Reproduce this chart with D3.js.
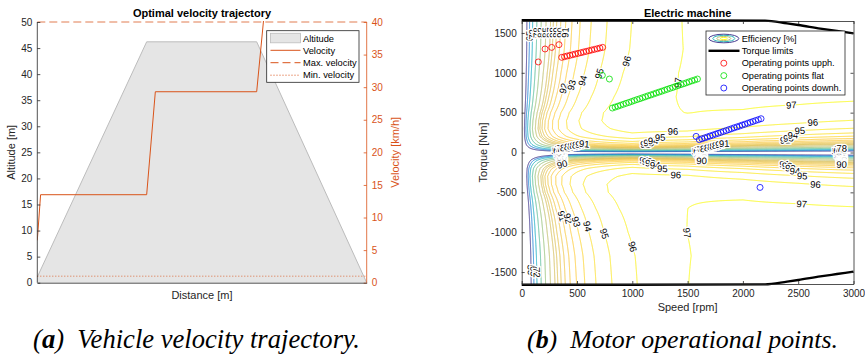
<!DOCTYPE html>
<html><head><meta charset="utf-8">
<script src="https://cdn.jsdelivr.net/npm/d3@7"></script>
<style>
body{margin:0;background:#fff}
svg{display:block;font-family:"Liberation Sans",Arial,Helvetica,sans-serif}
</style></head><body>
<svg id="fig" width="865" height="359"></svg>
<script>
// ---------------- (a) velocity trajectory ----------------
const altitudeDistance = [0, 996, 1998, 3000];
const altitudeValue    = [1.1, 46.2, 46.2, 0];
const velocityDistance = [0, 30, 996, 1075, 1998, 2090];
const velocityValue    = [6.5, 13.5, 13.5, 29.3, 29.3, 45.4];
const maxVelocity = 40, minVelocity = 1;
const altitudeTicks = d3.range(0, 51, 5);
const velocityTicks = d3.range(0, 41, 5);
const legendA = ["Altitude", "Velocity", "Max. velocity", "Min. velocity"];

// ---------------- (b) electric machine map ----------------
const speedTicks  = [0, 500, 1000, 1500, 2000, 2500, 3000];
const torqueTicks = [-1500, -1000, -500, 0, 500, 1000, 1500];
const efficiencyLevels = [55, 65, 72, 78, 82, 85, 87, 88, 89, 90, 91, 92, 93, 94, 95, 96, 97];
// loss lookup tables of the machine (speed-dependent and torque-dependent parts)
const lossSpeedRpm  = [0, 500, 1000, 1500, 2000, 2500, 3000, 3200];
const noLoadLossKw  = [0.30, 0.55, 0.85, 1.50, 2.40, 3.50, 4.70, 5.20];
const lossTorqueNm  = [0, 100, 200, 300, 400, 500, 700, 1000, 1300, 1800];
const torqueLossKw  = [0, 0.035, 0.14, 0.32, 0.58, 0.92, 1.80, 3.20, 4.70, 7.00];
// torque limit envelope
const limitSpeed  = [0, 2200, 2400, 2500, 2700, 2850, 3000];
const limitTorque = [1660, 1655, 1620, 1600, 1555, 1525, 1495];
// operating points
const uphillSpeed  = [150, 211, 271, 337, 362, 387, 411, 436, 461, 485, 510, 535, 559, 584, 609, 633, 658, 683, 707, 732];
const uphillTorque = [1136, 1299, 1319, 1353, 1194, 1202, 1211, 1219, 1227, 1236, 1244, 1252, 1261, 1269, 1277, 1286, 1294, 1302, 1311, 1319];
const flatSpeed  = [729, 793, 820, 845, 870, 894, 919, 944, 969, 994, 1018, 1043, 1068, 1093, 1118, 1142, 1167, 1192, 1217, 1242, 1266, 1291, 1316, 1341, 1366, 1390, 1415, 1440, 1465, 1490, 1514, 1539, 1564, 1589];
const flatTorque = [968, 922, 558, 570, 581, 593, 605, 617, 628, 640, 652, 664, 675, 687, 699, 711, 722, 734, 746, 758, 769, 781, 793, 805, 816, 828, 840, 852, 863, 875, 887, 899, 910, 922];
const downhillSpeed  = [1577, 1606, 1630, 1655, 1679, 1703, 1727, 1752, 1776, 1800, 1824, 1849, 1873, 1897, 1921, 1946, 1970, 1994, 2018, 2043, 2067, 2091, 2115, 2140, 2164, 2155];
const downhillTorque = [202, 161, 172, 184, 195, 207, 218, 230, 241, 252, 264, 275, 287, 298, 310, 321, 332, 344, 355, 367, 378, 389, 401, 412, 424, -438];
const legendB = ["Efficiency [%]", "Torque limits", "Operating points upph.", "Operating points flat", "Operating points downh."];

const parula = ["#352a87", "#0f5cdd", "#1481d6", "#06a4ca", "#2eb7a4", "#87bf77", "#d1bb59", "#fec832", "#f9fb0e"];
const AX = "#262626", ORANGE = "#D95319";

const svg = d3.select("#fig");
const zip = (a, b) => a.map((v, i) => [v, b[i]]);

// ======================= chart (a) =======================
const A = {x0: 37.3, x1: 366.7, y0: 22, y1: 282.7};
const xA = d3.scaleLinear().domain([0, 3000]).range([A.x0, A.x1]);
const yAlt = d3.scaleLinear().domain([0, 50]).range([A.y1, A.y0]);
const yVel = d3.scaleLinear().domain([0, 40]).range([A.y1, A.y0]);
const gA = svg.append("g");
gA.append("clipPath").attr("id", "clipA").append("rect")
  .attr("x", A.x0).attr("y", A.y0 - 1).attr("width", A.x1 - A.x0).attr("height", A.y1 - A.y0 + 1);

const alt = zip(altitudeDistance, altitudeValue);
gA.append("path")
  .attr("d", d3.area().x(d => xA(d[0])).y0(yAlt(0)).y1(d => yAlt(d[1]))(alt))
  .attr("fill", "#e5e5e5").attr("stroke", "none");
gA.append("path")
  .attr("d", d3.line().x(d => xA(d[0])).y(d => yAlt(d[1]))(alt))
  .attr("fill", "none").attr("stroke", "#bcbcbc").attr("stroke-width", 1);

gA.append("path")
  .attr("clip-path", "url(#clipA)")
  .attr("d", d3.line().x(d => xA(d[0])).y(d => yVel(d[1]))(zip(velocityDistance, velocityValue)))
  .attr("fill", "none").attr("stroke", ORANGE).attr("stroke-width", 1);
gA.append("line").attr("x1", xA(0)).attr("x2", xA(3000)).attr("y1", yVel(maxVelocity)).attr("y2", yVel(maxVelocity))
  .attr("stroke", ORANGE).attr("stroke-width", 1).attr("stroke-dasharray", "8,4").attr("opacity", 0.75);
gA.append("line").attr("x1", xA(0)).attr("x2", xA(3000)).attr("y1", yVel(minVelocity)).attr("y2", yVel(minVelocity))
  .attr("stroke", ORANGE).attr("stroke-width", 1).attr("stroke-dasharray", "1,2").attr("opacity", 0.8);

// left axis
const axL = gA.append("g").attr("transform", `translate(${A.x0},0)`)
  .call(d3.axisLeft(yAlt).tickValues(altitudeTicks).tickSize(-3).tickPadding(5));
// right axis
const axR = gA.append("g").attr("transform", `translate(${A.x1},0)`)
  .call(d3.axisRight(yVel).tickValues(velocityTicks).tickSize(-3).tickPadding(5));
// bottom axis line (no ticks)
const axB = gA.append("g").attr("transform", `translate(0,${A.y1})`)
  .call(d3.axisBottom(xA).tickValues([]).tickSizeOuter(0));
[axL, axB].forEach(g => { g.selectAll("path,line").attr("stroke", AX).attr("stroke-width", 0.8); g.selectAll("text").attr("fill", AX).attr("font-size", 10).attr("font-family", "Liberation Sans, Arial"); });
axR.selectAll("path,line").attr("stroke", ORANGE).attr("stroke-width", 0.8);
axR.selectAll("text").attr("fill", ORANGE).attr("font-size", 10).attr("font-family", "Liberation Sans, Arial");
axL.select(".domain").attr("d", `M0,${A.y1}V${A.y0}`);
axR.select(".domain").attr("d", `M0,${A.y1}V${A.y0}`);

gA.append("text").attr("x", (A.x0 + A.x1) / 2).attr("y", 16.5).attr("text-anchor", "middle")
  .attr("font-size", 11).attr("font-weight", "bold").attr("fill", "#000").text("Optimal velocity trajectory");
gA.append("text").attr("x", (A.x0 + A.x1) / 2).attr("y", 299).attr("text-anchor", "middle")
  .attr("font-size", 11).attr("fill", AX).text("Distance [m]");
gA.append("text").attr("transform", `translate(15,${(A.y0 + A.y1) / 2}) rotate(-90)`).attr("text-anchor", "middle")
  .attr("font-size", 11).attr("fill", AX).text("Altitude [m]");
gA.append("text").attr("transform", `translate(399,${(A.y0 + A.y1) / 2}) rotate(-90)`).attr("text-anchor", "middle")
  .attr("font-size", 11).attr("fill", ORANGE).text("Velocity [km/h]");

// legend (a)
const lgA = gA.append("g");
lgA.append("rect").attr("x", 266.7).attr("y", 30.7).attr("width", 92.3).attr("height", 51.6)
  .attr("fill", "#fff").attr("stroke", AX).attr("stroke-width", 0.8);
const rowA = [38.3, 50.3, 62.7, 75.2];
lgA.append("rect").attr("x", 270.5).attr("y", 33.3).attr("width", 30).attr("height", 9.5)
  .attr("fill", "#e5e5e5").attr("stroke", "#bcbcbc").attr("stroke-width", 0.8);
["none", "8,4", "1,2"].forEach((s, i) => {
  lgA.append("line").attr("x1", 270.5).attr("x2", 300.5).attr("y1", rowA[i + 1]).attr("y2", rowA[i + 1])
    .attr("stroke", ORANGE).attr("stroke-width", 1).attr("stroke-dasharray", s === "none" ? null : s);
});
legendA.forEach((t, i) => lgA.append("text").attr("x", 303).attr("y", rowA[i]).attr("dy", "0.35em")
  .attr("font-size", 9.3).attr("fill", "#000").text(t));

// ======================= chart (b) =======================
const R = {x0: 521.7, x1: 853.5, y0: 21, y1: 284};
const xS = d3.scaleLinear().domain([0, 3000]).range([R.x0, R.x1]);
const yT = d3.scaleLinear().domain([-1650, 1650]).range([R.y1, R.y0]);
const gB = svg.append("g");
gB.append("clipPath").attr("id", "clipB").append("rect")
  .attr("x", R.x0).attr("y", R.y0).attr("width", R.x1 - R.x0).attr("height", R.y1 - R.y0);

// efficiency surface from the loss tables
const noLoad = d3.scaleLinear().domain(lossSpeedRpm).range(noLoadLossKw).clamp(true);
const torqueLoss = d3.scaleLinear().domain(lossTorqueNm).range(torqueLossKw).clamp(true);
function efficiency(n, T) {
  const s = Math.abs(n), t = Math.abs(T);
  const p = t * s * Math.PI / 30 / 1000;
  if (p <= 0) return 0;
  const loss = noLoad(s) + torqueLoss(t);
  const eta = T >= 0 ? p / (p + loss) : (p - loss) / p;
  return Math.max(0, 100 * eta);
}
const nx = 720, ny = 900, sMin = -40, sMax = 3040, tMin = -1720, tMax = 1720;
const ds = (sMax - sMin) / (nx - 1), dt = (tMax - tMin) / (ny - 1);
const grid = new Float64Array(nx * ny);
for (let j = 0; j < ny; j++) {
  const T = tMax - j * dt;
  for (let i = 0; i < nx; i++) grid[j * nx + i] = efficiency(sMin + i * ds, T);
}
const contours = d3.contours().size([nx, ny]).thresholds(efficiencyLevels)(grid);
const lvMin = efficiencyLevels[0], lvMax = efficiencyLevels[efficiencyLevels.length - 1];
const colorOf = d3.scaleLinear().domain(parula.map((_, k) => lvMin + k * (lvMax - lvMin) / (parula.length - 1))).range(parula);
const toPx = p => [xS(sMin + (p[0] - 0.5) * ds), yT(tMax - (p[1] - 0.5) * dt)];

const gC = gB.append("g").attr("clip-path", "url(#clipB)");
const labelData = [];
const inside = p => p[0] >= R.x0 - 0.5 && p[0] <= R.x1 + 0.5 && p[1] >= R.y0 - 0.5 && p[1] <= R.y1 + 0.5;
const spacing = 140;
contours.forEach(c => {
  const rings = [];
  c.coordinates.forEach(poly => poly.forEach(ring => rings.push(ring.map(toPx))));
  gC.append("path")
    .attr("d", rings.map(r => "M" + r.map(p => p[0].toFixed(2) + "," + p[1].toFixed(2)).join("L")).join(""))
    .attr("fill", "none").attr("stroke", colorOf(c.value)).attr("stroke-width", 0.9);
  rings.forEach(ring => {
    const k = ring.findIndex(p => !inside(p));
    const r = k < 0 ? ring : ring.slice(k).concat(ring.slice(0, k));
    const runs = []; let cur = [];
    r.forEach(p => { if (inside(p)) cur.push(p); else { if (cur.length > 1) runs.push(cur); cur = []; } });
    if (cur.length > 1) runs.push(cur);
    runs.forEach(run => {
      const cum = [0];
      for (let i = 1; i < run.length; i++) cum.push(cum[i - 1] + Math.hypot(run[i][0] - run[i - 1][0], run[i][1] - run[i - 1][1]));
      const len = cum[cum.length - 1];
      if (len < 40) return;
      const at = s => {
        s = Math.max(0, Math.min(len, s));
        let i = d3.bisectLeft(cum, s); if (i < 1) i = 1; if (i >= run.length) i = run.length - 1;
        const f = (s - cum[i - 1]) / ((cum[i] - cum[i - 1]) || 1);
        return [run[i - 1][0] + f * (run[i][0] - run[i - 1][0]), run[i - 1][1] + f * (run[i][1] - run[i - 1][1])];
      };
      for (let s = Math.max(12, (len % spacing) / 2); s < len - 10; s += spacing) {
        const p = at(s), a = at(s - 6), b = at(s + 6);
        if (p[0] < R.x0 + 6 || p[0] > R.x1 - 6 || p[1] < R.y0 + 5 || p[1] > R.y1 - 5) continue;
        let ang = Math.atan2(b[1] - a[1], b[0] - a[0]) * 180 / Math.PI;
        if (ang > 90) ang -= 180; if (ang <= -90) ang += 180;
        labelData.push({x: p[0], y: p[1], ang, text: String(c.value)});
      }
    });
  });
});
gB.append("g").selectAll("text").data(labelData).join("text")
  .attr("transform", d => `translate(${d.x},${d.y}) rotate(${d.ang})`)
  .attr("text-anchor", "middle").attr("dy", "0.35em")
  .attr("font-size", 9.5).attr("fill", "#000")
  .attr("stroke", "#fff").attr("stroke-width", 2.6).attr("paint-order", "stroke")
  .text(d => d.text);

// operating points
const pts = [[uphillSpeed, uphillTorque, "#ff0000"], [flatSpeed, flatTorque, "#00e000"], [downhillSpeed, downhillTorque, "#0000ff"]];
pts.forEach(([s, t, col]) => {
  gB.append("g").selectAll("circle").data(zip(s, t)).join("circle")
    .attr("cx", d => xS(d[0])).attr("cy", d => yT(d[1])).attr("r", 3)
    .attr("fill", "none").attr("stroke", col).attr("stroke-width", 0.8);
});

// torque limits
const lim = zip(limitSpeed, limitTorque);
[1, -1].forEach(sg => gB.append("path")
  .attr("d", d3.line().x(d => xS(d[0])).y(d => yT(sg * d[1])).curve(d3.curveMonotoneX)(lim))
  .attr("fill", "none").attr("stroke", "#000").attr("stroke-width", 2.4));

// axes with box
const axBX = gB.append("g").attr("transform", `translate(0,${R.y1})`)
  .call(d3.axisBottom(xS).tickValues(speedTicks).tickFormat(d3.format("d")).tickSize(-3).tickPadding(6).tickSizeOuter(0));
const axTX = gB.append("g").attr("transform", `translate(0,${R.y0})`)
  .call(d3.axisTop(xS).tickValues(speedTicks).tickSize(-3).tickFormat("").tickSizeOuter(0));
const axLY = gB.append("g").attr("transform", `translate(${R.x0},0)`)
  .call(d3.axisLeft(yT).tickValues(torqueTicks).tickFormat(d => d < 0 ? "-" + Math.abs(d) : String(d)).tickSize(-3).tickPadding(5).tickSizeOuter(0));
const axRY = gB.append("g").attr("transform", `translate(${R.x1},0)`)
  .call(d3.axisRight(yT).tickValues(torqueTicks).tickSize(-3).tickFormat("").tickSizeOuter(0));
[axBX, axTX, axLY, axRY].forEach(g => { g.selectAll("path,line").attr("stroke", AX).attr("stroke-width", 0.8); g.selectAll("text").attr("fill", AX).attr("font-size", 10).attr("font-family", "Liberation Sans, Arial"); });

gB.append("text").attr("x", (R.x0 + R.x1) / 2).attr("y", 16.5).attr("text-anchor", "middle")
  .attr("font-size", 11).attr("font-weight", "bold").attr("fill", "#000").text("Electric machine");
gB.append("text").attr("x", (R.x0 + R.x1) / 2).attr("y", 310.5).attr("text-anchor", "middle")
  .attr("font-size", 11).attr("fill", AX).text("Speed [rpm]");
gB.append("text").attr("transform", `translate(487,${(R.y0 + R.y1) / 2}) rotate(-90)`).attr("text-anchor", "middle")
  .attr("font-size", 11).attr("fill", AX).text("Torque [Nm]");

// legend (b)
const lgB = gB.append("g");
lgB.append("rect").attr("x", 706).attr("y", 31).attr("width", 139).attr("height", 64)
  .attr("fill", "#fff").attr("stroke", AX).attr("stroke-width", 0.8);
const rowB = [38.5, 50.8, 63.2, 75.6, 88.0];
[[15, 4.3, 0], [11, 3.2, 0.45], [7, 2.1, 0.7], [3.5, 1.1, 1]].forEach(e => {
  lgB.append("ellipse").attr("cx", 723.8).attr("cy", rowB[0]).attr("rx", e[0]).attr("ry", e[1])
    .attr("fill", "none").attr("stroke", colorOf(lvMin + e[2] * (lvMax - lvMin))).attr("stroke-width", 0.9);
});
lgB.append("line").attr("x1", 708.5).attr("x2", 739.5).attr("y1", rowB[1]).attr("y2", rowB[1]).attr("stroke", "#000").attr("stroke-width", 2.4);
["#ff0000", "#00e000", "#0000ff"].forEach((col, i) => lgB.append("circle").attr("cx", 723.8).attr("cy", rowB[i + 2]).attr("r", 3)
  .attr("fill", "none").attr("stroke", col).attr("stroke-width", 0.8));
legendB.forEach((t, i) => lgB.append("text").attr("x", 741.7).attr("y", rowB[i]).attr("dy", "0.35em")
  .attr("font-size", 9.2).attr("fill", "#000").text(t));

// ======================= captions =======================
function caption(cx, width, letter, rest) {
  const t = svg.append("text").attr("y", 348).attr("text-anchor", "middle").attr("x", cx)
    .attr("font-family", "'Liberation Serif', 'DejaVu Serif', serif").attr("font-style", "italic")
    .attr("font-size", 20).attr("fill", "#000");
  t.append("tspan").text("(");
  t.append("tspan").attr("font-weight", "bold").text(letter);
  t.append("tspan").text(")\u2002" + rest);
  const w = t.node().getComputedTextLength();
  t.attr("font-size", 20 * width / w);
}
caption(196.5, 327, "a", "Vehicle velocity trajectory.");
caption(682.5, 311, "b", "Motor operational points.");
</script>
</body></html>
